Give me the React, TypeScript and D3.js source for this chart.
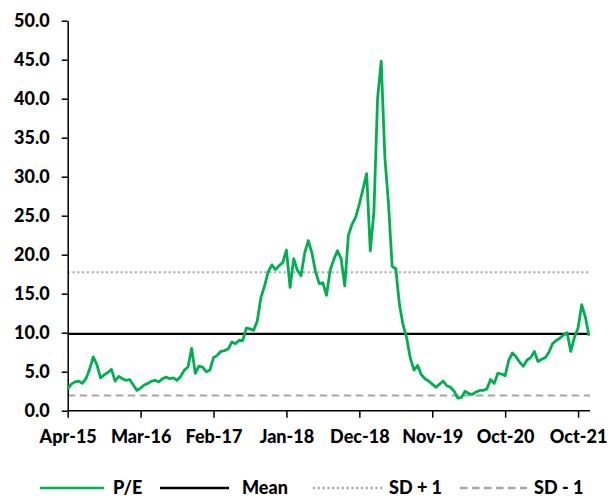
import { useRef, useEffect } from 'react';
import * as d3 from 'd3';

// category axis: one tick label every `pointsPerTick` points
const tickLabels = ['Apr-15', 'Mar-16', 'Feb-17', 'Jan-18', 'Dec-18', 'Nov-19', 'Oct-20', 'Oct-21'];
const pointsPerTick = 20;

// P/E readings, evenly spaced along the category axis
const peValues = [
  2.8, 3.4, 3.7, 3.8, 3.5, 4.1, 5.3, 6.9, 5.9, 4.2,
  4.6, 4.9, 5.3, 3.8, 4.4, 4.1, 3.9, 4.0, 3.3, 2.6,
  2.9, 3.3, 3.5, 3.8, 3.9, 3.7, 4.1, 4.3, 4.1, 4.2,
  3.9, 4.4, 5.2, 5.6, 8.0, 4.8, 5.7, 5.6, 5.0, 5.2,
  6.8, 7.1, 7.6, 7.7, 7.9, 8.8, 8.6, 9.0, 9.0, 10.6,
  10.5, 10.3, 11.5, 14.5, 16.0, 17.8, 18.7, 18.1, 18.6, 19.0,
  20.6, 15.8, 19.5, 18.0, 17.3, 20.2, 21.8, 20.2, 17.8, 16.3,
  16.4, 14.8, 18.0, 19.4, 20.5, 19.5, 16.0, 22.5, 23.9, 24.8,
  26.5, 28.4, 30.4, 20.5, 25.5, 40.0, 44.8, 32.5, 26.5, 18.5,
  18.2, 13.6, 11.0, 9.3, 6.7, 5.2, 5.8, 4.6, 4.1, 3.8,
  3.4, 3.0, 3.4, 3.8, 3.2, 3.0, 2.5, 1.6, 1.7, 2.5,
  2.2, 2.1, 2.4, 2.6, 2.6, 2.8, 4.0, 3.5, 4.8, 4.7,
  4.5, 6.5, 7.4, 6.9, 6.2, 5.7, 6.5, 6.8, 7.6, 6.3,
  6.6, 6.8, 7.5, 8.6, 9.0, 9.3, 9.7, 10.0, 7.6, 9.4,
  10.6, 13.6, 12.0, 9.6,
];

const meanValue = 9.85;
const sdPlusValue = 17.75;
const sdMinusValue = 1.95;

const yTicks = [0, 5, 10, 15, 20, 25, 30, 35, 40, 45, 50];

const legendNames = ['P/E', 'Mean', 'SD + 1', 'SD - 1'];

const GREEN = '#00b050';
const GREY = '#a6a6a6';
const FONT = 'Lato, "Open Sans", sans-serif';

const App = () => {
  const svgRef = useRef<SVGSVGElement | null>(null);

  useEffect(() => {
    const width = 611;
    const height = 499;
    const left = 67.7;
    const right = 590;
    const top = 20.7;
    const bottom = 410.7;

    const svg = d3
      .select(svgRef.current)
      .attr('width', width)
      .attr('height', height)
      .style('position', 'absolute')
      .style('left', '0px')
      .style('top', '0px')
      .style('background', '#fff');
    svg.selectAll('*').remove();

    const xScale = d3
      .scaleLinear()
      .domain([0, peValues.length - 1])
      .range([left, right - 1]);

    const yScale = d3.scaleLinear().domain([0, 50]).range([bottom, top]);

    // reference lines
    const refLines = [
      { v: sdPlusValue, color: GREY, width: 2, dash: '2,2.8' },
      { v: sdMinusValue, color: GREY, width: 2.2, dash: '7.5,4.5' },
      { v: meanValue, color: '#000', width: 2.2, dash: null },
    ];
    svg
      .append('g')
      .selectAll('line')
      .data(refLines)
      .join('line')
      .attr('x1', left)
      .attr('x2', right)
      .attr('y1', d => yScale(d.v))
      .attr('y2', d => yScale(d.v))
      .attr('stroke', d => d.color)
      .attr('stroke-width', d => d.width)
      .attr('stroke-dasharray', d => d.dash);

    const yAxis = d3
      .axisLeft(yScale)
      .tickValues(yTicks)
      .tickFormat(d3.format('.1f'))
      .tickSize(6)
      .tickSizeOuter(0)
      .tickPadding(12);

    const xAxis = d3
      .axisBottom(xScale)
      .tickValues(tickLabels.map((_d, i) => i * pointsPerTick))
      .tickFormat((_d, i) => tickLabels[i])
      .tickSize(7)
      .tickSizeOuter(0)
      .tickPadding(13);

    const gx = svg.append('g').attr('transform', `translate(0, ${bottom})`).call(xAxis);
    gx.select('.domain').attr('d', `M${left},0H${right}`);
    const gy = svg.append('g').attr('transform', `translate(${left}, 0)`).call(yAxis);

    [gx, gy].forEach(g => {
      g.selectAll('path, line').attr('stroke', '#000').attr('stroke-width', 1.5);
      g.selectAll('text')
        .attr('fill', '#000')
        .style('font-family', FONT)
        .style('font-weight', 900)
        .style('font-size', '18px');
    });

    // P/E series
    svg
      .append('path')
      .datum(peValues)
      .attr(
        'd',
        d3
          .line<number>()
          .x((_d, i) => xScale(i))
          .y(d => yScale(d)),
      )
      .attr('fill', 'none')
      .attr('stroke', GREEN)
      .attr('stroke-width', 2.8)
      .attr('stroke-linejoin', 'round');

    // legend
    const legendStyles = [
      { color: GREEN, dash: null, x1: 40, x2: 104, tx: 113 },
      { color: '#000', dash: null, x1: 160, x2: 229, tx: 242 },
      { color: GREY, dash: '2,2.8', x1: 313, x2: 382, tx: 389 },
      { color: GREY, dash: '7.5,4.5', x1: 460, x2: 527, tx: 534 },
    ];
    const ly = 488;
    const lg = svg
      .append('g')
      .selectAll('g')
      .data(legendNames)
      .join('g');
    lg.append('line')
      .attr('x1', (_d, i) => legendStyles[i].x1)
      .attr('x2', (_d, i) => legendStyles[i].x2)
      .attr('y1', ly)
      .attr('y2', ly)
      .attr('stroke', (_d, i) => legendStyles[i].color)
      .attr('stroke-width', 2.4)
      .attr('stroke-dasharray', (_d, i) => legendStyles[i].dash);
    lg.append('text')
      .attr('x', (_d, i) => legendStyles[i].tx)
      .attr('y', ly)
      .attr('dy', '0.35em')
      .style('font-family', FONT)
      .style('font-weight', 900)
      .style('font-size', '18px')
      .text(d => d);
  }, []);

  return <svg ref={svgRef}></svg>;
};

export default App;
